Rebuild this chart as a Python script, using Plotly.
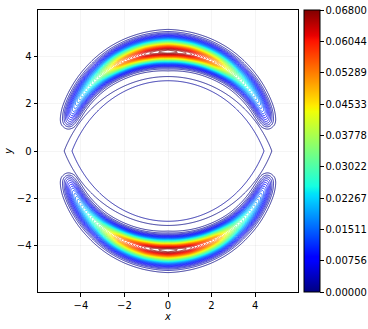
import numpy as np
import plotly.graph_objects as go

# plot window and contour levels
x_range = [-5.97, 5.97]
y_range = [-5.97, 5.97]
z_max = 0.068
n_levels = 50
axis_ticks = [-4, -2, 0, 2, 4]
cbar_ticks = np.linspace(0, z_max, 10)

# crescent ridge: ellipse half-axes, ridge height and widths vs polar angle (deg)
ridge_a, ridge_b = 4.75, 4.2
ridge_angle = [0, 11, 13.5, 17, 23, 34, 49, 62, 78, 90]
ridge_height = [0, 0, 0.0019, 0.0065, 0.0135, 0.0215, 0.033, 0.052, 0.0648, 0.068]
width_angle = [0, 20, 34, 50, 70, 90]
width_out = [0.22, 0.24, 0.26, 0.29, 0.32, 0.34]
width_in = [0.19, 0.21, 0.23, 0.25, 0.27, 0.29]

# low plateau inside the lens between the crescents
eye_top, eye_side = 3.11, 4.68
eye_width_top, eye_width_side = 0.1, 0.195
eye_plateau = 0.0035

# matplotlib "jet"
jet_t = [0, 0.11, 0.125, 0.34, 0.35, 0.375, 0.64, 0.65, 0.66, 0.89, 0.91, 1.0]
red = np.interp(jet_t, [0, 0.35, 0.66, 0.89, 1], [0, 0, 1, 1, 0.5])
green = np.interp(jet_t, [0, 0.125, 0.375, 0.64, 0.91, 1], [0, 0, 1, 1, 0, 0])
blue = np.interp(jet_t, [0, 0.11, 0.34, 0.65, 1], [0.5, 1, 1, 0, 0])
jet = [[t, f"rgb({r * 255:.0f},{g * 255:.0f},{b * 255:.0f})"]
       for t, r, g, b in zip(jet_t, red, green, blue)]

xs = np.linspace(x_range[0], x_range[1], 401)
ys = np.linspace(y_range[0], y_range[1], 401)
X, Y = np.meshgrid(xs, ys)

# crescents
u = X / ridge_a
v = np.abs(Y) / ridge_b
rho = np.hypot(u, v)
ang = np.degrees(np.arctan2(v, np.abs(u)))
grad = np.hypot(X / ridge_a ** 2, Y / ridge_b ** 2) / np.maximum(rho, 1e-9)
delta = (rho - 1) / np.maximum(grad, 1e-9)
amp = np.interp(ang, ridge_angle, ridge_height)
sig = np.where(delta > 0,
               np.interp(ang, width_angle, width_out),
               np.interp(ang, width_angle, width_in))
band = amp * np.exp(-delta ** 2 / (2 * sig ** 2))

# lens
c = (eye_side ** 2 / eye_top - eye_top) / 2
R = eye_top + c
d = np.sqrt(X ** 2 + (np.abs(Y) + c) ** 2) - R
w = eye_width_top + (eye_width_side - eye_width_top) * np.clip((X / eye_side) ** 2, 0, 1)
eye = eye_plateau / (1 + np.exp(np.clip(d / w, -50, 50)))

step = z_max / (n_levels - 1)
levels = dict(coloring="lines", start=step, end=z_max - step / 2, size=step)

fig = go.Figure()
for field in (eye, band):
    fig.add_trace(go.Contour(
        x=xs, y=ys, z=field,
        zmin=0, zmax=z_max, zauto=False, colorscale=jet,
        contours=levels, line=dict(width=0.8),
        showscale=False, hoverinfo="skip",
    ))
fig.add_trace(go.Scatter(
    x=[0], y=[0], mode="markers", hoverinfo="skip",
    marker=dict(
        size=1, opacity=0, color=[0], cmin=0, cmax=z_max, colorscale=jet,
        showscale=True,
        colorbar=dict(
            x=1.023, xanchor="left", xpad=0, y=0.5, yanchor="middle", ypad=0,
            len=1, lenmode="fraction", thickness=16,
            outlinewidth=1, outlinecolor="black",
            tickmode="array", tickvals=list(cbar_ticks),
            ticktext=[f"{t:.5f}" for t in cbar_ticks],
            ticks="outside", ticklen=3.5, tickwidth=1, tickcolor="black",
            tickfont=dict(size=10, color="black"),
        ),
    ),
    showlegend=False,
))

axis_style = dict(
    tickvals=axis_ticks, ticks="outside", ticklen=3.5, tickwidth=1, tickcolor="black",
    showline=True, linecolor="black", linewidth=1, mirror=True,
    showgrid=True, gridcolor="rgba(0,0,0,0.04)", zeroline=False,
    tickfont=dict(size=10, color="black"),
)
fig.update_xaxes(range=x_range, title=dict(text="<i>x</i>", standoff=0, font=dict(size=10)), **axis_style)
fig.update_yaxes(range=y_range, title=dict(text="<i>y</i>", standoff=2, font=dict(size=10)), **axis_style)
fig.update_layout(
    width=368, height=329,
    margin=dict(l=38, r=70, t=10, b=37, autoexpand=False),
    paper_bgcolor="white", plot_bgcolor="white",
    font=dict(family="DejaVu Sans", size=10, color="black"),
    showlegend=False,
)
fig.write_html("out.html", config={"displayModeBar": False},
               post_script="document.body.style.margin='0px';")
